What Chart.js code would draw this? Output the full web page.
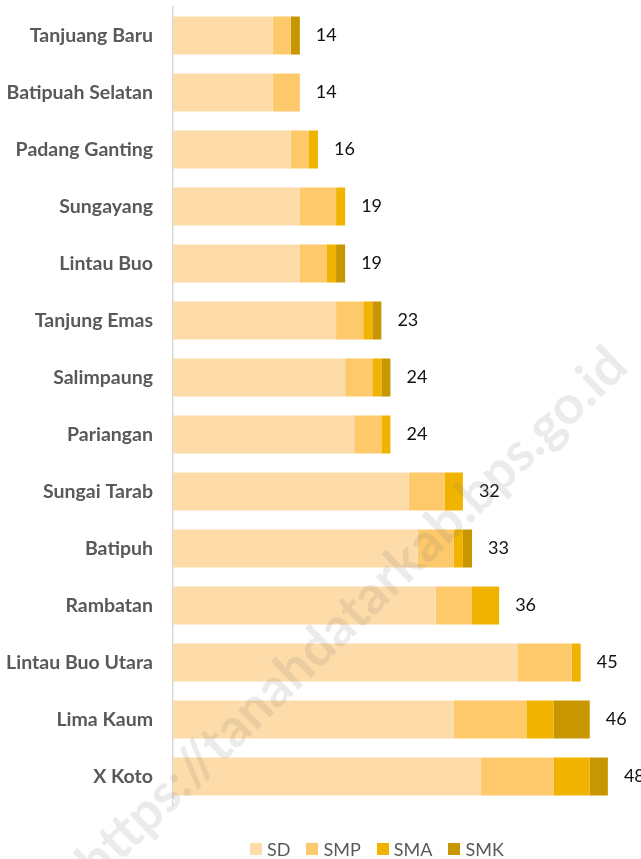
<!DOCTYPE html>
<html>
<head>
<meta charset="utf-8">
<script src="https://cdn.jsdelivr.net/npm/chart.js@4.4.1/dist/chart.umd.min.js"></script>
<style>
    html, body { margin: 0; padding: 0; background: #fff; }
    #wrap { position: relative; width: 641px; height: 859px; }
    #legend {
        position: absolute; left: 250px; top: 838px;
        display: flex; align-items: center;
        font-family: Lato, "Open Sans", sans-serif; font-size: 18px; color: #595959;
    }
    .item { display: flex; align-items: center; margin-right: 16px; }
    .box { width: 12px; height: 12px; margin-right: 5px; }
</style>
</head>
<body>
<div id="wrap">
    <canvas id="chart" width="641" height="859"></canvas>
    <div id="legend"></div>
</div>
<script>
// kecamatan, top to bottom
const categories = [
    'Tanjuang Baru', 'Batipuah Selatan', 'Padang Ganting', 'Sungayang',
    'Lintau Buo', 'Tanjung Emas', 'Salimpaung', 'Pariangan', 'Sungai Tarab',
    'Batipuh', 'Rambatan', 'Lintau Buo Utara', 'Lima Kaum', 'X Koto'
];
const sd  = [11, 11, 13, 14, 14, 18, 19, 20, 26, 27, 29, 38, 31, 34];
const smp = [2, 3, 2, 4, 3, 3, 3, 3, 4, 4, 4, 6, 8, 8];
const sma = [0, 0, 1, 1, 1, 1, 1, 1, 2, 1, 3, 1, 3, 4];
const smk = [1, 0, 0, 0, 1, 1, 1, 0, 0, 1, 0, 0, 4, 2];

const seriesNames = ['SD', 'SMP', 'SMA', 'SMK'];
const seriesColors = ['#FDDCA9', '#FEC96A', '#F0B400', '#C89600'];
const watermark = 'https://tanahdatarkab.bps.go.id';

const totals = categories.map((c, i) => sd[i] + smp[i] + sma[i] + smk[i]);

// total labels at end of each stack + faint watermark
const totalsPlugin = {
    id: 'totals',
    afterDatasetsDraw(chart) {
        const ctx = chart.ctx;
        const x = chart.scales.x;
        const meta = chart.getDatasetMeta(0);
        ctx.save();
        ctx.font = '18px Lato, "Open Sans", sans-serif';
        ctx.fillStyle = '#111';
        ctx.textAlign = 'left';
        ctx.textBaseline = 'middle';
        totals.forEach((t, i) => {
            ctx.fillText(String(t), x.getPixelForValue(t) + 16, meta.data[i].y);
        });
        ctx.restore();
    },
    afterDraw(chart) {
        const ctx = chart.ctx;
        ctx.save();
        ctx.translate(352, 614);
        ctx.rotate(-44 * Math.PI / 180);
        ctx.font = 'bold 48px Lato, "Open Sans", sans-serif';
        const w = ctx.measureText(watermark).width;
        const s = 740 / w;
        ctx.scale(s, s);
        ctx.fillStyle = 'rgba(120, 120, 120, 0.15)';
        ctx.textAlign = 'center';
        ctx.textBaseline = 'middle';
        ctx.fillText(watermark, 0, 0);
        ctx.restore();
    }
};

const values = [sd, smp, sma, smk];

new Chart(document.getElementById('chart'), {
    type: 'bar',
    data: {
        labels: categories,
        datasets: seriesNames.map((name, k) => ({
            label: name,
            data: values[k],
            backgroundColor: seriesColors[k],
            borderWidth: 0,
            categoryPercentage: 1,
            barPercentage: 0.667
        }))
    },
    options: {
        indexAxis: 'y',
        responsive: false,
        animation: false,
        layout: { padding: { top: 7, right: 15, bottom: 54, left: 0 } },
        scales: {
            x: {
                stacked: true,
                display: false,
                min: 0,
                max: 50
            },
            y: {
                stacked: true,
                afterFit: (s) => {
                    s.width = 173;
                    s.paddingTop = 0;
                    s.paddingBottom = 0;
                },
                grid: { display: false, drawTicks: false },
                border: { display: true, color: '#D9D9D9', width: 1.5 },
                ticks: {
                    padding: 20,
                    color: '#595959',
                    font: { family: 'Lato, "Open Sans", sans-serif', size: 19.5, weight: 'bold' }
                }
            }
        },
        plugins: {
            legend: { display: false },
            tooltip: { enabled: false }
        }
    },
    plugins: [totalsPlugin]
});

// legend
const legend = document.getElementById('legend');
seriesNames.forEach((name, k) => {
    const item = document.createElement('div');
    item.className = 'item';
    const box = document.createElement('span');
    box.className = 'box';
    box.style.background = seriesColors[k];
    const label = document.createElement('span');
    label.textContent = name;
    item.appendChild(box);
    item.appendChild(label);
    legend.appendChild(item);
});
</script>
</body>
</html>
